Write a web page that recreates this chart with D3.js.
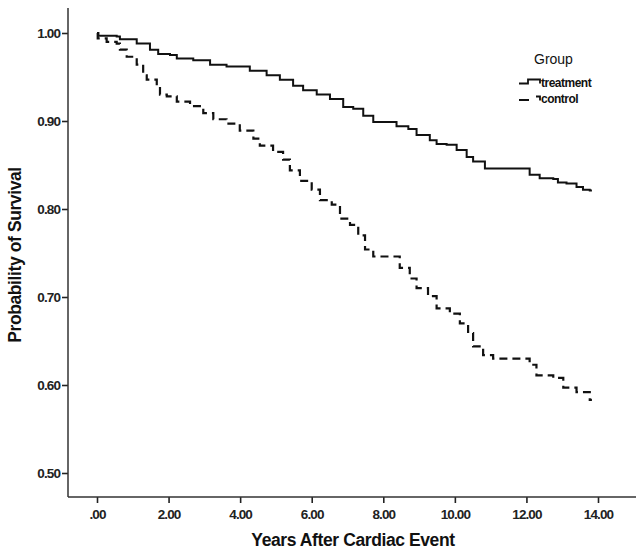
<!doctype html>
<html lang="en">
<head>
<meta charset="utf-8">
<script src="https://cdn.jsdelivr.net/npm/d3@7"></script>
<style>
    body { margin: 0; background: #fff; }
    svg { font-family: "Liberation Sans", Arial, sans-serif; }
    .tick text { font-size: 13.5px; font-weight: bold; fill: #222; letter-spacing: -0.9px; }
    .axis-title { font-size: 17.5px; font-weight: bold; fill: #111; letter-spacing: -0.4px; }
</style>
</head>
<body>
<div id="chart"></div>
<script>
    // event times (years) and survival after each event
    var treatTime = [0, 0.04, 0.55, 0.64, 1.11, 1.48, 1.71, 2.04, 2.23, 2.69, 3.16, 3.62, 4.27, 4.74, 5.11, 5.48, 5.76, 6.14, 6.51, 6.88, 7.16, 7.44, 7.72, 8.37, 8.70, 8.93, 9.30, 9.49, 9.77, 10.05, 10.33, 10.51, 10.84, 12.09, 12.37, 12.75, 12.88, 13.12, 13.40, 13.58, 13.77, 13.83];
    var treatSurv = [1.000, 0.997, 0.996, 0.993, 0.988, 0.981, 0.976, 0.975, 0.971, 0.969, 0.964, 0.962, 0.957, 0.952, 0.947, 0.940, 0.935, 0.930, 0.925, 0.916, 0.914, 0.906, 0.899, 0.894, 0.891, 0.884, 0.878, 0.874, 0.873, 0.867, 0.859, 0.854, 0.846, 0.839, 0.835, 0.834, 0.830, 0.829, 0.825, 0.822, 0.821, 0.821];

    var ctrlTime = [0, 0.02, 0.27, 0.55, 0.64, 0.83, 1.11, 1.29, 1.39, 1.67, 1.76, 1.95, 2.23, 2.60, 2.97, 3.25, 3.62, 3.99, 4.37, 4.55, 4.92, 5.20, 5.39, 5.67, 6.00, 6.23, 6.56, 6.79, 7.07, 7.30, 7.49, 7.72, 8.46, 8.74, 8.93, 9.25, 9.49, 9.86, 10.14, 10.37, 10.51, 10.79, 11.07, 12.09, 12.28, 12.75, 13.03, 13.40, 13.77, 13.83];
    var ctrlSurv = [1.000, 0.994, 0.990, 0.988, 0.981, 0.973, 0.964, 0.952, 0.947, 0.939, 0.930, 0.928, 0.922, 0.917, 0.909, 0.902, 0.897, 0.889, 0.880, 0.872, 0.865, 0.856, 0.844, 0.832, 0.822, 0.810, 0.805, 0.789, 0.782, 0.770, 0.754, 0.746, 0.733, 0.721, 0.710, 0.701, 0.687, 0.681, 0.670, 0.659, 0.644, 0.634, 0.630, 0.623, 0.611, 0.608, 0.597, 0.592, 0.583, 0.583];

    var xTicks = [0, 2, 4, 6, 8, 10, 12, 14];
    var yTicks = [0.5, 0.6, 0.7, 0.8, 0.9, 1.0];
    var groups = ["treatment", "control"];

    var W = 640, H = 553;
    var axisX = 68, axisY = 497, axisTop = 8, axisRight = 636;

    var svg = d3.select("#chart").append("svg")
        .attr("width", W)
        .attr("height", H);

    var x = d3.scaleLinear().domain([0, 14]).range([97, 598]);
    var y = d3.scaleLinear().domain([0.5, 1.0]).range([473, 33]);

    // y axis
    var gy = svg.append("g")
        .attr("transform", "translate(" + axisX + ",0)")
        .call(d3.axisLeft(y).tickValues(yTicks).tickSize(6).tickPadding(2)
            .tickFormat(d3.format(".2f")));
    gy.select(".domain").remove();
    gy.selectAll(".tick line").attr("stroke", "#222").attr("stroke-width", 1.6);
    svg.append("line")
        .attr("x1", axisX).attr("x2", axisX)
        .attr("y1", axisTop).attr("y2", axisY)
        .attr("stroke", "#333").attr("stroke-width", 1.5);

    // x axis
    var gx = svg.append("g")
        .attr("transform", "translate(0," + axisY + ")")
        .call(d3.axisBottom(x).tickValues(xTicks).tickSize(6).tickPadding(6)
            .tickFormat(function(d) { return d === 0 ? ".00" : d3.format(".2f")(d); }));
    gx.select(".domain").remove();
    gx.selectAll(".tick line").attr("stroke", "#222").attr("stroke-width", 1.6);
    svg.append("line")
        .attr("x1", axisX).attr("x2", axisRight)
        .attr("y1", axisY).attr("y2", axisY)
        .attr("stroke", "#333").attr("stroke-width", 1.5);

    // titles
    svg.append("text")
        .attr("class", "axis-title")
        .attr("x", 353).attr("y", 546)
        .attr("text-anchor", "middle")
        .text("Years After Cardiac Event");
    svg.append("text")
        .attr("class", "axis-title")
        .attr("transform", "translate(21,255) rotate(-90)")
        .attr("text-anchor", "middle")
        .text("Probability of Survival");

    // survival curves
    var line = d3.line()
        .x(function(d) { return x(d[0]); })
        .y(function(d) { return y(d[1]); })
        .curve(d3.curveStepAfter);

    var treat = d3.zip(treatTime, treatSurv);
    var ctrl = d3.zip(ctrlTime, ctrlSurv);

    svg.append("path")
        .datum(treat)
        .attr("fill", "none")
        .attr("stroke", "#111")
        .attr("stroke-width", 2)
        .attr("d", line);

    svg.append("path")
        .datum(ctrl)
        .attr("fill", "none")
        .attr("stroke", "#111")
        .attr("stroke-width", 2.2)
        .attr("stroke-dasharray", "8,5")
        .attr("d", line);

    // legend
    var lg = svg.append("g").attr("transform", "translate(519,0)");
    lg.append("text")
        .attr("x", 15).attr("y", 64)
        .attr("font-size", "14px")
        .attr("fill", "#111")
        .text("Group");
    lg.append("path")
        .attr("d", "M0,83.5 H9 V79.5 H21 V83.5")
        .attr("fill", "none").attr("stroke", "#111").attr("stroke-width", 1.8);
    lg.append("path")
        .attr("d", "M0,100 H10 M17,96.5 H21 V100.5")
        .attr("fill", "none").attr("stroke", "#111").attr("stroke-width", 1.8);
    lg.selectAll(".lab")
        .data(groups)
        .join("text")
        .attr("class", "lab")
        .attr("x", 22)
        .attr("y", function(d, i) { return 87 + i * 16; })
        .attr("font-size", "12px")
        .attr("font-weight", "bold")
        .attr("letter-spacing", "-0.5px")
        .attr("fill", "#111")
        .text(function(d) { return d; });
</script>
</body>
</html>
